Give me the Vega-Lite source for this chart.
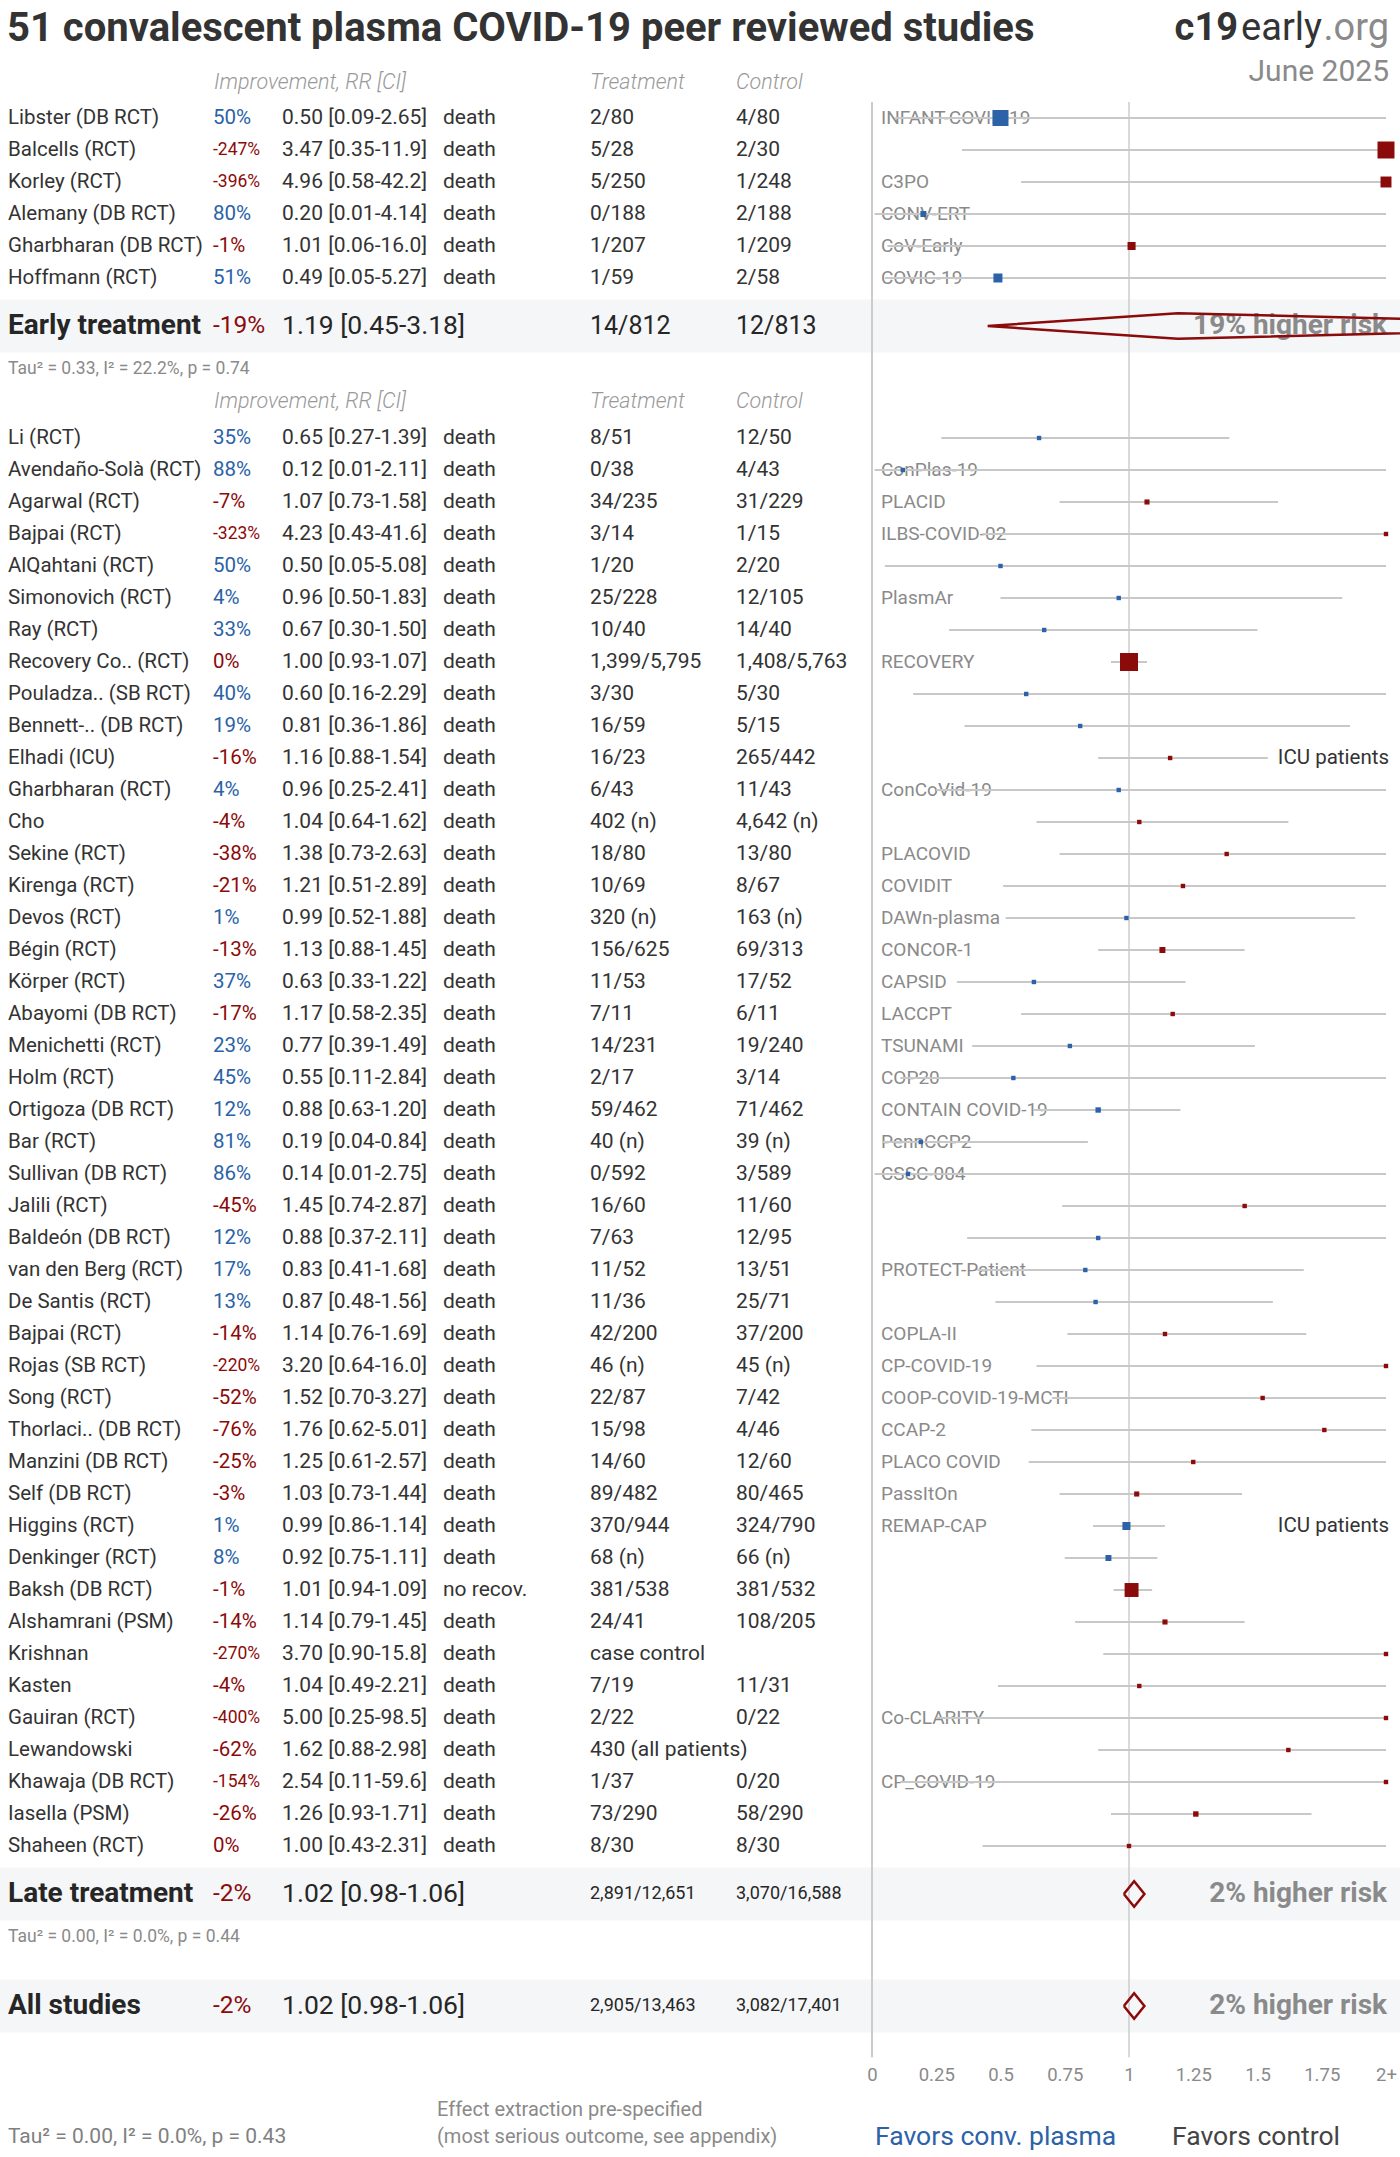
{
"$schema": "https://vega.github.io/schema/vega-lite/v6.json",
"padding": 0,
"spacing": 0,
"bounds": "flush",
"background": "white",
"config": {"view": {"stroke": null}, "text": {"font": "Roboto"}, "concat": {"spacing": 0}},
"datasets": {
"studies": [
{"row":0,"name":"Libster (DB RCT)","imp":"50%","ci":"0.50 [0.09-2.65]","rr":0.50,"lo":0.09,"hi":2.65,"outcome":"death","treat":"2/80","ctrl":"4/80","trial":"INFANT-COVID-19","note":"","weight":79},
{"row":1,"name":"Balcells (RCT)","imp":"-247%","ci":"3.47 [0.35-11.9]","rr":3.47,"lo":0.35,"hi":11.9,"outcome":"death","treat":"5/28","ctrl":"2/30","trial":"","note":"","weight":89},
{"row":2,"name":"Korley (RCT)","imp":"-396%","ci":"4.96 [0.58-42.2]","rr":4.96,"lo":0.58,"hi":42.2,"outcome":"death","treat":"5/250","ctrl":"1/248","trial":"C3PO","note":"","weight":37},
{"row":3,"name":"Alemany (DB RCT)","imp":"80%","ci":"0.20 [0.01-4.14]","rr":0.20,"lo":0.01,"hi":4.14,"outcome":"death","treat":"0/188","ctrl":"2/188","trial":"CONV-ERT","note":"","weight":11},
{"row":4,"name":"Gharbharan (DB RCT)","imp":"-1%","ci":"1.01 [0.06-16.0]","rr":1.01,"lo":0.06,"hi":16.0,"outcome":"death","treat":"1/207","ctrl":"1/209","trial":"CoV-Early","note":"","weight":20},
{"row":5,"name":"Hoffmann (RCT)","imp":"51%","ci":"0.49 [0.05-5.27]","rr":0.49,"lo":0.05,"hi":5.27,"outcome":"death","treat":"1/59","ctrl":"2/58","trial":"COVIC-19","note":"","weight":25},
{"row":10,"name":"Li (RCT)","imp":"35%","ci":"0.65 [0.27-1.39]","rr":0.65,"lo":0.27,"hi":1.39,"outcome":"death","treat":"8/51","ctrl":"12/50","trial":"","note":"","weight":6},
{"row":11,"name":"Avendaño-Solà (RCT)","imp":"88%","ci":"0.12 [0.01-2.11]","rr":0.12,"lo":0.01,"hi":2.11,"outcome":"death","treat":"0/38","ctrl":"4/43","trial":"ConPlas-19","note":"","weight":6},
{"row":12,"name":"Agarwal (RCT)","imp":"-7%","ci":"1.07 [0.73-1.58]","rr":1.07,"lo":0.73,"hi":1.58,"outcome":"death","treat":"34/235","ctrl":"31/229","trial":"PLACID","note":"","weight":8},
{"row":13,"name":"Bajpai (RCT)","imp":"-323%","ci":"4.23 [0.43-41.6]","rr":4.23,"lo":0.43,"hi":41.6,"outcome":"death","treat":"3/14","ctrl":"1/15","trial":"ILBS-COVID-02","note":"","weight":6},
{"row":14,"name":"AlQahtani (RCT)","imp":"50%","ci":"0.50 [0.05-5.08]","rr":0.50,"lo":0.05,"hi":5.08,"outcome":"death","treat":"1/20","ctrl":"2/20","trial":"","note":"","weight":6},
{"row":15,"name":"Simonovich (RCT)","imp":"4%","ci":"0.96 [0.50-1.83]","rr":0.96,"lo":0.50,"hi":1.83,"outcome":"death","treat":"25/228","ctrl":"12/105","trial":"PlasmAr","note":"","weight":6},
{"row":16,"name":"Ray (RCT)","imp":"33%","ci":"0.67 [0.30-1.50]","rr":0.67,"lo":0.30,"hi":1.50,"outcome":"death","treat":"10/40","ctrl":"14/40","trial":"","note":"","weight":6},
{"row":17,"name":"Recovery Co.. (RCT)","imp":"0%","ci":"1.00 [0.93-1.07]","rr":1.00,"lo":0.93,"hi":1.07,"outcome":"death","treat":"1,399/5,795","ctrl":"1,408/5,763","trial":"RECOVERY","note":"","weight":100},
{"row":18,"name":"Pouladza.. (SB RCT)","imp":"40%","ci":"0.60 [0.16-2.29]","rr":0.60,"lo":0.16,"hi":2.29,"outcome":"death","treat":"3/30","ctrl":"5/30","trial":"","note":"","weight":6},
{"row":19,"name":"Bennett-.. (DB RCT)","imp":"19%","ci":"0.81 [0.36-1.86]","rr":0.81,"lo":0.36,"hi":1.86,"outcome":"death","treat":"16/59","ctrl":"5/15","trial":"","note":"","weight":6},
{"row":20,"name":"Elhadi (ICU)","imp":"-16%","ci":"1.16 [0.88-1.54]","rr":1.16,"lo":0.88,"hi":1.54,"outcome":"death","treat":"16/23","ctrl":"265/442","trial":"","note":"ICU patients","weight":6},
{"row":21,"name":"Gharbharan (RCT)","imp":"4%","ci":"0.96 [0.25-2.41]","rr":0.96,"lo":0.25,"hi":2.41,"outcome":"death","treat":"6/43","ctrl":"11/43","trial":"ConCoVid-19","note":"","weight":6},
{"row":22,"name":"Cho","imp":"-4%","ci":"1.04 [0.64-1.62]","rr":1.04,"lo":0.64,"hi":1.62,"outcome":"death","treat":"402 (n)","ctrl":"4,642 (n)","trial":"","note":"","weight":6},
{"row":23,"name":"Sekine (RCT)","imp":"-38%","ci":"1.38 [0.73-2.63]","rr":1.38,"lo":0.73,"hi":2.63,"outcome":"death","treat":"18/80","ctrl":"13/80","trial":"PLACOVID","note":"","weight":6},
{"row":24,"name":"Kirenga (RCT)","imp":"-21%","ci":"1.21 [0.51-2.89]","rr":1.21,"lo":0.51,"hi":2.89,"outcome":"death","treat":"10/69","ctrl":"8/67","trial":"COVIDIT","note":"","weight":6},
{"row":25,"name":"Devos (RCT)","imp":"1%","ci":"0.99 [0.52-1.88]","rr":0.99,"lo":0.52,"hi":1.88,"outcome":"death","treat":"320 (n)","ctrl":"163 (n)","trial":"DAWn-plasma","note":"","weight":6},
{"row":26,"name":"Bégin (RCT)","imp":"-13%","ci":"1.13 [0.88-1.45]","rr":1.13,"lo":0.88,"hi":1.45,"outcome":"death","treat":"156/625","ctrl":"69/313","trial":"CONCOR-1","note":"","weight":11},
{"row":27,"name":"Körper (RCT)","imp":"37%","ci":"0.63 [0.33-1.22]","rr":0.63,"lo":0.33,"hi":1.22,"outcome":"death","treat":"11/53","ctrl":"17/52","trial":"CAPSID","note":"","weight":6},
{"row":28,"name":"Abayomi (DB RCT)","imp":"-17%","ci":"1.17 [0.58-2.35]","rr":1.17,"lo":0.58,"hi":2.35,"outcome":"death","treat":"7/11","ctrl":"6/11","trial":"LACCPT","note":"","weight":6},
{"row":29,"name":"Menichetti (RCT)","imp":"23%","ci":"0.77 [0.39-1.49]","rr":0.77,"lo":0.39,"hi":1.49,"outcome":"death","treat":"14/231","ctrl":"19/240","trial":"TSUNAMI","note":"","weight":6},
{"row":30,"name":"Holm (RCT)","imp":"45%","ci":"0.55 [0.11-2.84]","rr":0.55,"lo":0.11,"hi":2.84,"outcome":"death","treat":"2/17","ctrl":"3/14","trial":"COP20","note":"","weight":6},
{"row":31,"name":"Ortigoza (DB RCT)","imp":"12%","ci":"0.88 [0.63-1.20]","rr":0.88,"lo":0.63,"hi":1.20,"outcome":"death","treat":"59/462","ctrl":"71/462","trial":"CONTAIN COVID-19","note":"","weight":9},
{"row":32,"name":"Bar (RCT)","imp":"81%","ci":"0.19 [0.04-0.84]","rr":0.19,"lo":0.04,"hi":0.84,"outcome":"death","treat":"40 (n)","ctrl":"39 (n)","trial":"PennCCP2","note":"","weight":6},
{"row":33,"name":"Sullivan (DB RCT)","imp":"86%","ci":"0.14 [0.01-2.75]","rr":0.14,"lo":0.01,"hi":2.75,"outcome":"death","treat":"0/592","ctrl":"3/589","trial":"CSSC-004","note":"","weight":6},
{"row":34,"name":"Jalili (RCT)","imp":"-45%","ci":"1.45 [0.74-2.87]","rr":1.45,"lo":0.74,"hi":2.87,"outcome":"death","treat":"16/60","ctrl":"11/60","trial":"","note":"","weight":6},
{"row":35,"name":"Baldeón (DB RCT)","imp":"12%","ci":"0.88 [0.37-2.11]","rr":0.88,"lo":0.37,"hi":2.11,"outcome":"death","treat":"7/63","ctrl":"12/95","trial":"","note":"","weight":6},
{"row":36,"name":"van den Berg (RCT)","imp":"17%","ci":"0.83 [0.41-1.68]","rr":0.83,"lo":0.41,"hi":1.68,"outcome":"death","treat":"11/52","ctrl":"13/51","trial":"PROTECT-Patient","note":"","weight":6},
{"row":37,"name":"De Santis (RCT)","imp":"13%","ci":"0.87 [0.48-1.56]","rr":0.87,"lo":0.48,"hi":1.56,"outcome":"death","treat":"11/36","ctrl":"25/71","trial":"","note":"","weight":6},
{"row":38,"name":"Bajpai (RCT)","imp":"-14%","ci":"1.14 [0.76-1.69]","rr":1.14,"lo":0.76,"hi":1.69,"outcome":"death","treat":"42/200","ctrl":"37/200","trial":"COPLA-II","note":"","weight":6},
{"row":39,"name":"Rojas (SB RCT)","imp":"-220%","ci":"3.20 [0.64-16.0]","rr":3.20,"lo":0.64,"hi":16.0,"outcome":"death","treat":"46 (n)","ctrl":"45 (n)","trial":"CP-COVID-19","note":"","weight":6},
{"row":40,"name":"Song (RCT)","imp":"-52%","ci":"1.52 [0.70-3.27]","rr":1.52,"lo":0.70,"hi":3.27,"outcome":"death","treat":"22/87","ctrl":"7/42","trial":"COOP-COVID-19-MCTI","note":"","weight":6},
{"row":41,"name":"Thorlaci.. (DB RCT)","imp":"-76%","ci":"1.76 [0.62-5.01]","rr":1.76,"lo":0.62,"hi":5.01,"outcome":"death","treat":"15/98","ctrl":"4/46","trial":"CCAP-2","note":"","weight":6},
{"row":42,"name":"Manzini (DB RCT)","imp":"-25%","ci":"1.25 [0.61-2.57]","rr":1.25,"lo":0.61,"hi":2.57,"outcome":"death","treat":"14/60","ctrl":"12/60","trial":"PLACO COVID","note":"","weight":6},
{"row":43,"name":"Self (DB RCT)","imp":"-3%","ci":"1.03 [0.73-1.44]","rr":1.03,"lo":0.73,"hi":1.44,"outcome":"death","treat":"89/482","ctrl":"80/465","trial":"PassItOn","note":"","weight":8},
{"row":44,"name":"Higgins (RCT)","imp":"1%","ci":"0.99 [0.86-1.14]","rr":0.99,"lo":0.86,"hi":1.14,"outcome":"death","treat":"370/944","ctrl":"324/790","trial":"REMAP-CAP","note":"ICU patients","weight":20},
{"row":45,"name":"Denkinger (RCT)","imp":"8%","ci":"0.92 [0.75-1.11]","rr":0.92,"lo":0.75,"hi":1.11,"outcome":"death","treat":"68 (n)","ctrl":"66 (n)","trial":"","note":"","weight":11},
{"row":46,"name":"Baksh (DB RCT)","imp":"-1%","ci":"1.01 [0.94-1.09]","rr":1.01,"lo":0.94,"hi":1.09,"outcome":"no recov.","treat":"381/538","ctrl":"381/532","trial":"","note":"","weight":60},
{"row":47,"name":"Alshamrani (PSM)","imp":"-14%","ci":"1.14 [0.79-1.45]","rr":1.14,"lo":0.79,"hi":1.45,"outcome":"death","treat":"24/41","ctrl":"108/205","trial":"","note":"","weight":8},
{"row":48,"name":"Krishnan","imp":"-270%","ci":"3.70 [0.90-15.8]","rr":3.70,"lo":0.90,"hi":15.8,"outcome":"death","treat":"case control","ctrl":"","trial":"","note":"","weight":6},
{"row":49,"name":"Kasten","imp":"-4%","ci":"1.04 [0.49-2.21]","rr":1.04,"lo":0.49,"hi":2.21,"outcome":"death","treat":"7/19","ctrl":"11/31","trial":"","note":"","weight":6},
{"row":50,"name":"Gauiran (RCT)","imp":"-400%","ci":"5.00 [0.25-98.5]","rr":5.00,"lo":0.25,"hi":98.5,"outcome":"death","treat":"2/22","ctrl":"0/22","trial":"Co-CLARITY","note":"","weight":6},
{"row":51,"name":"Lewandowski","imp":"-62%","ci":"1.62 [0.88-2.98]","rr":1.62,"lo":0.88,"hi":2.98,"outcome":"death","treat":"430 (all patients)","ctrl":"","trial":"","note":"","weight":6},
{"row":52,"name":"Khawaja (DB RCT)","imp":"-154%","ci":"2.54 [0.11-59.6]","rr":2.54,"lo":0.11,"hi":59.6,"outcome":"death","treat":"1/37","ctrl":"0/20","trial":"CP_COVID-19","note":"","weight":6},
{"row":53,"name":"Iasella (PSM)","imp":"-26%","ci":"1.26 [0.93-1.71]","rr":1.26,"lo":0.93,"hi":1.71,"outcome":"death","treat":"73/290","ctrl":"58/290","trial":"","note":"","weight":9},
{"row":54,"name":"Shaheen (RCT)","imp":"0%","ci":"1.00 [0.43-2.31]","rr":1.00,"lo":0.43,"hi":2.31,"outcome":"death","treat":"8/30","ctrl":"8/30","trial":"","note":"","weight":6}
],
"summary": [
{"row":6.5,"name":"Early treatment","imp":"-19%","ci":"1.19 [0.45-3.18]","treat":"14/812","ctrl":"12/813","risk":"19% higher risk"},
{"row":55.5,"name":"Late treatment","imp":"-2%","ci":"1.02 [0.98-1.06]","treat":"2,891/12,651","ctrl":"3,070/16,588","risk":"2% higher risk"},
{"row":59,"name":"All studies","imp":"-2%","ci":"1.02 [0.98-1.06]","treat":"2,905/13,463","ctrl":"3,082/17,401","risk":"2% higher risk"}
],
"diamonds": [
{"grp":"early","vertex":0,"rr":0.45,"row":6.5},
{"grp":"early","vertex":1,"rr":1.19,"row":6.1},
{"grp":"early","vertex":2,"rr":3.18,"row":6.5},
{"grp":"early","vertex":3,"rr":1.19,"row":6.9},
{"grp":"early","vertex":4,"rr":0.45,"row":6.5},
{"grp":"late","vertex":0,"rr":0.98,"row":55.5},
{"grp":"late","vertex":1,"rr":1.02,"row":55.1},
{"grp":"late","vertex":2,"rr":1.06,"row":55.5},
{"grp":"late","vertex":3,"rr":1.02,"row":55.9},
{"grp":"late","vertex":4,"rr":0.98,"row":55.5},
{"grp":"all","vertex":0,"rr":0.98,"row":59},
{"grp":"all","vertex":1,"rr":1.02,"row":58.6},
{"grp":"all","vertex":2,"rr":1.06,"row":59},
{"grp":"all","vertex":3,"rr":1.02,"row":59.4},
{"grp":"all","vertex":4,"rr":0.98,"row":59}
],
"headers": [{"row":-1.09},{"row":8.875}]
},
"hconcat": [
{"width":213,"height":2157,"layer":[
 {"data":{"name":"summary"},"mark":{"type":"bar","orient":"horizontal","height":53,"color":"#f5f6f8"},
  "encoding":{"y":{"field":"row","type":"quantitative","scale":{"domain":[-3.6875,63.71875],"reverse":true,"nice":false,"zero":false,"padding":0},"axis":null},
   "x":{"datum":0,"type":"quantitative","scale":{"domain":[0,1],"range":[0,1400],"padding":0},"axis":null},"x2":{"datum":1}}},
 {"data":{"values":[{"row":-2.79,"text":"51 convalescent plasma COVID-19 peer reviewed studies"}]},
  "mark":{"type":"text","align":"left","baseline":"middle","dx":7,"fontSize":40,"fontWeight":"bold","color":"#333333"},
  "encoding":{"y":{"field":"row","type":"quantitative","scale":{"domain":[-3.6875,63.71875],"reverse":true,"nice":false,"zero":false,"padding":0},"axis":null},
   "x":{"datum":0,"type":"quantitative","scale":{"domain":[0,1]},"axis":null},"text":{"field":"text"}}},
 {"data":{"name":"studies"},"mark":{"type":"text","align":"left","baseline":"middle","dx":8,"fontSize":20.5,"color":"#333333"},
  "encoding":{"y":{"field":"row","type":"quantitative","scale":{"domain":[-3.6875,63.71875],"reverse":true,"nice":false,"zero":false,"padding":0},"axis":null},
   "x":{"datum":0,"type":"quantitative","scale":{"domain":[0,1]},"axis":null},"text":{"field":"name"}}},
 {"data":{"name":"summary"},"mark":{"type":"text","align":"left","baseline":"middle","dx":8,"fontSize":28,"fontWeight":"bold","color":"#262626"},
  "encoding":{"y":{"field":"row","type":"quantitative","scale":{"domain":[-3.6875,63.71875],"reverse":true,"nice":false,"zero":false,"padding":0},"axis":null},
   "x":{"datum":0,"type":"quantitative","scale":{"domain":[0,1]},"axis":null},"text":{"field":"name"}}},
 {"data":{"values":[{"row":7.84,"text":"Tau² = 0.33, I² = 22.2%, p = 0.74"},{"row":56.84,"text":"Tau² = 0.00, I² = 0.0%, p = 0.44"}]},
  "mark":{"type":"text","align":"left","baseline":"middle","dx":8,"fontSize":17.5,"color":"#8a8a8a"},
  "encoding":{"y":{"field":"row","type":"quantitative","scale":{"domain":[-3.6875,63.71875],"reverse":true,"nice":false,"zero":false,"padding":0},"axis":null},
   "x":{"datum":0,"type":"quantitative","scale":{"domain":[0,1]},"axis":null},"text":{"field":"text"}}},
 {"data":{"values":[{"row":63.1,"text":"Tau² = 0.00, I² = 0.0%, p = 0.43"}]},
  "mark":{"type":"text","align":"left","baseline":"middle","dx":8,"fontSize":21,"color":"#808080"},
  "encoding":{"y":{"field":"row","type":"quantitative","scale":{"domain":[-3.6875,63.71875],"reverse":true,"nice":false,"zero":false,"padding":0},"axis":null},
   "x":{"datum":0,"type":"quantitative","scale":{"domain":[0,1]},"axis":null},"text":{"field":"text"}}}
]},
{"width":69,"height":2157,"layer":[
 {"data":{"name":"headers"},"mark":{"type":"text","align":"left","baseline":"middle","dx":1,"fontSize":21.5,"fontWeight":300,"fontStyle":"italic","color":"#999999","text":"Improvement, RR [CI]"},
  "encoding":{"y":{"field":"row","type":"quantitative","scale":{"domain":[-3.6875,63.71875],"reverse":true,"nice":false,"zero":false,"padding":0},"axis":null},
   "x":{"datum":0,"type":"quantitative","scale":{"domain":[0,1]},"axis":null}}},
 {"data":{"name":"studies"},"mark":{"type":"text","align":"left","baseline":"middle"},
  "encoding":{"y":{"field":"row","type":"quantitative","scale":{"domain":[-3.6875,63.71875],"reverse":true,"nice":false,"zero":false,"padding":0},"axis":null},
   "x":{"datum":0,"type":"quantitative","scale":{"domain":[0,1]},"axis":null},"text":{"field":"imp"},
   "color":{"condition":{"test":"datum.rr >= 1","value":"#8b0a0a"},"value":"#2b62a8"},
   "size":{"condition":{"test":"datum.rr >= 2","value":17.5},"value":20.5}}},
 {"data":{"name":"summary"},"mark":{"type":"text","align":"left","baseline":"middle","fontSize":24.5,"color":"#8b0a0a"},
  "encoding":{"y":{"field":"row","type":"quantitative","scale":{"domain":[-3.6875,63.71875],"reverse":true,"nice":false,"zero":false,"padding":0},"axis":null},
   "x":{"datum":0,"type":"quantitative","scale":{"domain":[0,1]},"axis":null},"text":{"field":"imp"}}}
]},
{"width":161,"height":2157,"layer":[
 {"data":{"name":"studies"},"mark":{"type":"text","align":"left","baseline":"middle","fontSize":21,"color":"#333333"},
  "encoding":{"y":{"field":"row","type":"quantitative","scale":{"domain":[-3.6875,63.71875],"reverse":true,"nice":false,"zero":false,"padding":0},"axis":null},
   "x":{"datum":0,"type":"quantitative","scale":{"domain":[0,1]},"axis":null},"text":{"field":"ci"}}},
 {"data":{"name":"summary"},"mark":{"type":"text","align":"left","baseline":"middle","fontSize":26.5,"color":"#262626"},
  "encoding":{"y":{"field":"row","type":"quantitative","scale":{"domain":[-3.6875,63.71875],"reverse":true,"nice":false,"zero":false,"padding":0},"axis":null},
   "x":{"datum":0,"type":"quantitative","scale":{"domain":[0,1]},"axis":null},"text":{"field":"ci"}}}
]},
{"width":147,"height":2157,"layer":[
 {"data":{"name":"studies"},"mark":{"type":"text","align":"left","baseline":"middle","fontSize":21,"color":"#333333"},
  "encoding":{"y":{"field":"row","type":"quantitative","scale":{"domain":[-3.6875,63.71875],"reverse":true,"nice":false,"zero":false,"padding":0},"axis":null},
   "x":{"datum":0,"type":"quantitative","scale":{"domain":[0,1]},"axis":null},"text":{"field":"outcome"}}},
 {"data":{"values":[{"row":62.25,"text":"Effect extraction pre-specified"},{"row":63.1,"text":"(most serious outcome, see appendix)"}]},
  "mark":{"type":"text","align":"left","baseline":"middle","dx":-6,"fontSize":20,"color":"#8a8a8a"},
  "encoding":{"y":{"field":"row","type":"quantitative","scale":{"domain":[-3.6875,63.71875],"reverse":true,"nice":false,"zero":false,"padding":0},"axis":null},
   "x":{"datum":0,"type":"quantitative","scale":{"domain":[0,1]},"axis":null},"text":{"field":"text"}}}
]},
{"width":146,"height":2157,"layer":[
 {"data":{"name":"headers"},"mark":{"type":"text","align":"left","baseline":"middle","fontSize":21.5,"fontWeight":300,"fontStyle":"italic","color":"#999999","text":"Treatment"},
  "encoding":{"y":{"field":"row","type":"quantitative","scale":{"domain":[-3.6875,63.71875],"reverse":true,"nice":false,"zero":false,"padding":0},"axis":null},
   "x":{"datum":0,"type":"quantitative","scale":{"domain":[0,1]},"axis":null}}},
 {"data":{"name":"studies"},"mark":{"type":"text","align":"left","baseline":"middle","fontSize":21,"color":"#333333"},
  "encoding":{"y":{"field":"row","type":"quantitative","scale":{"domain":[-3.6875,63.71875],"reverse":true,"nice":false,"zero":false,"padding":0},"axis":null},
   "x":{"datum":0,"type":"quantitative","scale":{"domain":[0,1]},"axis":null},"text":{"field":"treat"}}},
 {"data":{"name":"summary"},"mark":{"type":"text","align":"left","baseline":"middle","color":"#262626"},
  "encoding":{"y":{"field":"row","type":"quantitative","scale":{"domain":[-3.6875,63.71875],"reverse":true,"nice":false,"zero":false,"padding":0},"axis":null},
   "x":{"datum":0,"type":"quantitative","scale":{"domain":[0,1]},"axis":null},"text":{"field":"treat"},
   "size":{"condition":{"test":"length(datum.treat) > 7","value":18},"value":25}}}
]},
{"width":136,"height":2157,"layer":[
 {"data":{"name":"headers"},"mark":{"type":"text","align":"left","baseline":"middle","fontSize":21.5,"fontWeight":300,"fontStyle":"italic","color":"#999999","text":"Control"},
  "encoding":{"y":{"field":"row","type":"quantitative","scale":{"domain":[-3.6875,63.71875],"reverse":true,"nice":false,"zero":false,"padding":0},"axis":null},
   "x":{"datum":0,"type":"quantitative","scale":{"domain":[0,1]},"axis":null}}},
 {"data":{"name":"studies"},"mark":{"type":"text","align":"left","baseline":"middle","fontSize":21,"color":"#333333"},
  "encoding":{"y":{"field":"row","type":"quantitative","scale":{"domain":[-3.6875,63.71875],"reverse":true,"nice":false,"zero":false,"padding":0},"axis":null},
   "x":{"datum":0,"type":"quantitative","scale":{"domain":[0,1]},"axis":null},"text":{"field":"ctrl"}}},
 {"data":{"name":"summary"},"mark":{"type":"text","align":"left","baseline":"middle","color":"#262626"},
  "encoding":{"y":{"field":"row","type":"quantitative","scale":{"domain":[-3.6875,63.71875],"reverse":true,"nice":false,"zero":false,"padding":0},"axis":null},
   "x":{"datum":0,"type":"quantitative","scale":{"domain":[0,1]},"axis":null},"text":{"field":"ctrl"},
   "size":{"condition":{"test":"length(datum.ctrl) > 7","value":18},"value":25}}}
]},
{"width":528,"height":2157,"resolve":{"scale":{"x":"independent"}},"layer":[
 {"layer":[
  {"data":{"values":[{"rr":0},{"rr":1}]},"mark":{"type":"rule","color":"#cccccc"},
   "encoding":{"x":{"field":"rr","type":"quantitative","scale":{"domain":[0,2],"range":[0,514],"clamp":true,"nice":false,"zero":false,"padding":0},"axis":null},
    "y":{"datum":-0.5,"type":"quantitative","scale":{"domain":[-3.6875,63.71875],"reverse":true,"nice":false,"zero":false,"padding":0},"axis":null},
    "y2":{"datum":60.6},
    "strokeWidth":{"condition":{"test":"datum.rr == 0","value":2},"value":1.5}}},
  {"data":{"name":"studies"},"mark":{"type":"text","align":"left","baseline":"middle","dx":9,"fontSize":19,"color":"#8a8a8a"},
   "encoding":{"x":{"datum":0,"type":"quantitative","axis":null},
    "y":{"field":"row","type":"quantitative","scale":{"domain":[-3.6875,63.71875],"reverse":true,"nice":false,"zero":false,"padding":0},"axis":null},
    "text":{"field":"trial"}}},
  {"data":{"name":"studies"},"mark":{"type":"rule","color":"#c8c8c8","strokeWidth":2},
   "encoding":{"x":{"field":"lo","type":"quantitative","axis":null},"x2":{"field":"hi"},
    "y":{"field":"row","type":"quantitative","scale":{"domain":[-3.6875,63.71875],"reverse":true,"nice":false,"zero":false,"padding":0},"axis":null}}},
  {"data":{"name":"studies"},"mark":{"type":"point","shape":"square","filled":true,"opacity":1},
   "encoding":{"x":{"field":"rr","type":"quantitative","axis":null},
    "y":{"field":"row","type":"quantitative","scale":{"domain":[-3.6875,63.71875],"reverse":true,"nice":false,"zero":false,"padding":0},"axis":null},
    "size":{"field":"weight","type":"quantitative","scale":{"domain":[0,100],"range":[0,324],"zero":true},"legend":null},
    "color":{"condition":{"test":"datum.rr >= 1","value":"#8b0a0a"},"value":"#2b62a8"}}},
  {"data":{"name":"summary"},"mark":{"type":"text","align":"right","baseline":"middle","dx":1,"fontSize":28,"fontWeight":"bold","color":"#8a8a8a"},
   "encoding":{"x":{"datum":2,"type":"quantitative","axis":null},
    "y":{"field":"row","type":"quantitative","scale":{"domain":[-3.6875,63.71875],"reverse":true,"nice":false,"zero":false,"padding":0},"axis":null},
    "text":{"field":"risk"}}},
  {"data":{"name":"studies"},"mark":{"type":"text","align":"right","baseline":"middle","dx":3,"fontSize":20.5,"color":"#333333"},
   "encoding":{"x":{"datum":2,"type":"quantitative","axis":null},
    "y":{"field":"row","type":"quantitative","scale":{"domain":[-3.6875,63.71875],"reverse":true,"nice":false,"zero":false,"padding":0},"axis":null},
    "text":{"field":"note"}}},
  {"data":{"values":[{"row":-2.79,"text":".org"}]},"mark":{"type":"text","align":"right","baseline":"middle","dx":3,"fontSize":38,"color":"#8a8a8a"},
   "encoding":{"x":{"datum":2,"type":"quantitative","axis":null},
    "y":{"field":"row","type":"quantitative","scale":{"domain":[-3.6875,63.71875],"reverse":true,"nice":false,"zero":false,"padding":0},"axis":null},
    "text":{"field":"text"}}},
  {"data":{"values":[{"row":-2.79,"text":"early"}]},"mark":{"type":"text","align":"right","baseline":"middle","dx":-64,"fontSize":38,"color":"#333333"},
   "encoding":{"x":{"datum":2,"type":"quantitative","axis":null},
    "y":{"field":"row","type":"quantitative","scale":{"domain":[-3.6875,63.71875],"reverse":true,"nice":false,"zero":false,"padding":0},"axis":null},
    "text":{"field":"text"}}},
  {"data":{"values":[{"row":-2.79,"text":"c19"}]},"mark":{"type":"text","align":"right","baseline":"middle","dx":-148,"fontSize":38,"fontWeight":"bold","color":"#333333"},
   "encoding":{"x":{"datum":2,"type":"quantitative","axis":null},
    "y":{"field":"row","type":"quantitative","scale":{"domain":[-3.6875,63.71875],"reverse":true,"nice":false,"zero":false,"padding":0},"axis":null},
    "text":{"field":"text"}}},
  {"data":{"values":[{"row":-1.45,"text":"June 2025"}]},"mark":{"type":"text","align":"right","baseline":"middle","dx":3,"fontSize":30,"color":"#8a8a8a"},
   "encoding":{"x":{"datum":2,"type":"quantitative","axis":null},
    "y":{"field":"row","type":"quantitative","scale":{"domain":[-3.6875,63.71875],"reverse":true,"nice":false,"zero":false,"padding":0},"axis":null},
    "text":{"field":"text"}}},
  {"data":{"values":[{"row":63.1,"text":"Favors conv. plasma"}]},"mark":{"type":"text","align":"left","baseline":"middle","dx":3,"fontSize":26.5,"color":"#2b62a8"},
   "encoding":{"x":{"datum":0,"type":"quantitative","axis":null},
    "y":{"field":"row","type":"quantitative","scale":{"domain":[-3.6875,63.71875],"reverse":true,"nice":false,"zero":false,"padding":0},"axis":null},
    "text":{"field":"text"}}},
  {"data":{"values":[{"row":63.1,"text":"Favors control"}]},"mark":{"type":"text","align":"left","baseline":"middle","dx":43,"fontSize":26.5,"color":"#444444"},
   "encoding":{"x":{"datum":1,"type":"quantitative","axis":null},
    "y":{"field":"row","type":"quantitative","scale":{"domain":[-3.6875,63.71875],"reverse":true,"nice":false,"zero":false,"padding":0},"axis":null},
    "text":{"field":"text"}}}
 ]},
 {"data":{"name":"diamonds"},"mark":{"type":"line","clip":true,"color":"#8b0a0a","strokeWidth":2.5,"strokeJoin":"miter"},
  "encoding":{"x":{"field":"rr","type":"quantitative","scale":{"domain":[0,2],"range":[0,514],"nice":false,"zero":false,"padding":0},
    "axis":{"orient":"bottom","offset":-83,"values":[0,0.25,0.5,0.75,1,1.25,1.5,1.75,2],"labelExpr":"datum.value >= 2 ? '2+' : format(datum.value, '~g')","domain":false,"ticks":false,"tickSize":0,"grid":false,"labelPadding":0,"labelBaseline":"middle","labelFontSize":18.5,"labelColor":"#8a8a8a","labelFont":"Roboto","title":null,"labelFlush":false,"labelOverlap":false}},
   "y":{"field":"row","type":"quantitative","scale":{"domain":[-3.6875,63.71875],"reverse":true,"nice":false,"zero":false,"padding":0},"axis":null},
   "order":{"field":"vertex","type":"quantitative"},
   "detail":{"field":"grp","type":"nominal"}}}
]}
]
}
